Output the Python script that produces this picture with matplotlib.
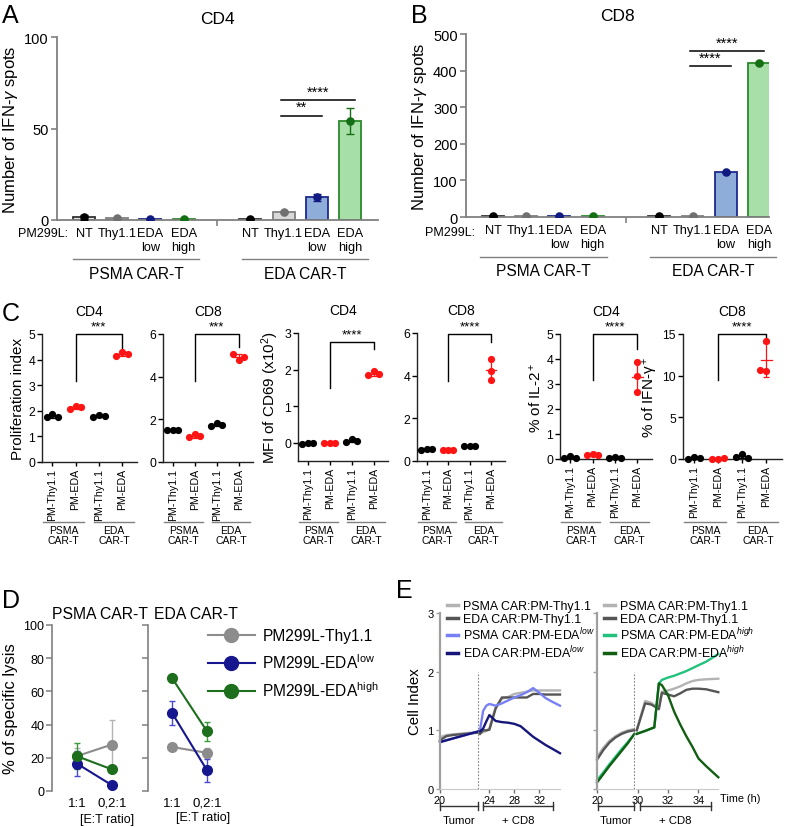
import numpy as np
import matplotlib
matplotlib.use("Agg")
import matplotlib.pyplot as plt
from matplotlib.lines import Line2D
from matplotlib.transforms import blended_transform_factory as btf

plt.rcParams['font.family'] = ['Liberation Sans', 'DejaVu Sans']
plt.rcParams['mathtext.fontset'] = 'custom'
plt.rcParams['mathtext.rm'] = 'Liberation Sans'
plt.rcParams['mathtext.it'] = 'Liberation Sans:italic'
plt.rcParams['mathtext.bf'] = 'Liberation Sans:bold'

# ------------------------------------------------------------------ data
# A / B : IFN-gamma ELISPOT
ab_targets = ["NT", "Thy1.1", "EDA\nlow", "EDA\nhigh"]
ab_groups = ["PSMA CAR-T", "EDA CAR-T"]
a_psma = [1.5, 1.2, 0.6, 0.7]
a_psma_err = [1.5, 0.3, 0.2, 0.3]
a_eda = [0.6, 4.3, 12.3, 54.0]
a_eda_err = [0.2, 0.4, 2.0, 7.0]
a_sig_y = [57, 65.5]
a_sig_txt = ["**", "****"]
b_psma = [2.0, 2.0, 2.0, 2.0]
b_psma_err = [0.5, 0.5, 0.5, 0.5]
b_eda = [2.0, 2.0, 122.0, 420.0]
b_eda_err = [0.5, 0.5, 2.0, 3.0]
b_sig_y = [412, 453]
b_sig_txt = ["****", "****"]

# C : per condition triplicates (PSMA-Thy1.1, PSMA-EDA, EDA-Thy1.1, EDA-EDA)
c_conditions = ["PM-Thy1.1", "PM-EDA", "PM-Thy1.1", "PM-EDA"]
c_groups = ["PSMA\nCAR-T", "EDA\nCAR-T"]
c_prolif_cd4 = [[1.88, 1.75, 1.75], [2.18, 2.07, 2.15], [1.82, 1.75, 1.78], [4.30, 4.15, 4.20]]
c_prolif_cd8 = [[1.50, 1.50, 1.50], [1.30, 1.15, 1.22], [1.82, 1.68, 1.75], [4.80, 5.05, 4.90]]
c_cd69_cd4 = [[0.0, -0.03, 0.0], [0.0, 0.0, 0.0], [0.10, 0.02, 0.06], [1.95, 1.84, 1.88]]
c_cd69_cd8 = [[0.58, 0.52, 0.55], [0.50, 0.50, 0.50], [0.72, 0.70, 0.72], [4.80, 4.20, 3.80]]
c_il2_cd4 = [[0.12, 0.05, 0.06], [0.22, 0.15, 0.18], [0.10, 0.05, 0.06], [3.87, 3.32, 2.70]]
c_ifng_cd8 = [[0.30, 0.05, 0.10], [0.05, 0.0, 0.10], [0.60, 0.20, 0.15], [14.2, 10.6, 10.7]]
c_titles = ["CD4", "CD8", "CD4", "CD8", "CD4", "CD8"]
c_ylabels = ["Proliferation index", None, "MFI of CD69 (x10$^2$)", None,
             "% of IL-2$^+$", "% of IFN-\u03b3$^+$"]
c_stars = ["***", "***", "****", "****", "****", "****"]

# D : specific lysis
d_ratios = ["1:1", "0,2:1"]
d_labels = ["PM299L-Thy1.1", "PM299L-EDA$^{\\rm low}$", "PM299L-EDA$^{\\rm high}$"]
d_psma_thy = [21.0, 28.0]; d_psma_thy_err = [5.0, 15.0]
d_psma_low = [16.5, 3.5];  d_psma_low_err = [7.5, 1.0]
d_psma_high = [21.0, 13.0]; d_psma_high_err = [8.0, 1.5]
d_eda_thy = [26.5, 23.0];  d_eda_thy_err = [1.5, 3.0]
d_eda_low = [47.0, 12.5];  d_eda_low_err = [7.3, 6.8]
d_eda_high = [68.0, 36.0]; d_eda_high_err = [1.5, 5.7]

# E : cell index (xCELLigence)
e_tumor_t = [20.0, 20.5, 21.0, 21.5, 22.0, 22.5, 23.0]
e1_tumor_psma_thy = [0.88, 0.92, 0.93, 0.94, 0.95, 0.96, 0.97]
e1_tumor_eda_thy = [0.83, 0.90, 0.92, 0.93, 0.94, 0.95, 0.96]
e1_tumor_psma_low = [0.80, 0.83, 0.86, 0.89, 0.92, 0.95, 0.98]
e1_tumor_eda_low = [0.80, 0.83, 0.86, 0.89, 0.92, 0.95, 0.98]
e1_t = [22.5, 23.0, 23.5, 24.0, 25.0, 26.0, 27.0, 28.0, 29.0, 30.0, 31.0, 32.0, 33.0, 34.0, 35.3]
e1_psma_thy = [0.95, 0.97, 0.99, 1.03, 1.40, 1.54, 1.57, 1.62, 1.64, 1.66, 1.68, 1.68, 1.68, 1.68, 1.68]
e1_eda_thy = [0.94, 1.00, 1.00, 1.01, 1.37, 1.56, 1.56, 1.56, 1.56, 1.56, 1.62, 1.62, 1.61, 1.61, 1.61]
e1_psma_low = [1.00, 1.33, 1.42, 1.45, 1.42, 1.46, 1.51, 1.56, 1.60, 1.65, 1.72, 1.64, 1.55, 1.49, 1.42]
e1_eda_low = [0.98, 1.03, 1.15, 1.26, 1.16, 1.14, 1.13, 1.11, 1.07, 0.98, 0.89, 0.82, 0.75, 0.69, 0.61]
e2_tumor_psma_thy = [0.54, 0.70, 0.82, 0.90, 0.96, 1.00, 1.02]
e2_tumor_eda_thy = [0.50, 0.66, 0.79, 0.88, 0.94, 0.98, 1.00]
e2_tumor_psma_high = [0.15, 0.28, 0.42, 0.55, 0.68, 0.80, 0.93]
e2_tumor_eda_high = [0.11, 0.25, 0.39, 0.52, 0.65, 0.78, 0.93]
e2_t = [29.95, 30.5, 30.9, 31.1, 31.4, 31.6, 32.0, 32.4, 32.8, 33.2, 33.6, 34.0, 34.5, 35.3]
e2_psma_thy = [1.01, 1.50, 1.47, 1.43, 1.39, 1.66, 1.68, 1.71, 1.75, 1.80, 1.84, 1.86, 1.87, 1.88]
e2_eda_thy = [1.00, 1.46, 1.44, 1.41, 1.36, 1.64, 1.61, 1.58, 1.63, 1.69, 1.71, 1.71, 1.70, 1.65]
e2_psma_high = [0.94, 0.99, 1.03, 1.05, 1.80, 1.86, 1.90, 1.93, 1.97, 2.01, 2.06, 2.11, 2.17, 2.30]
e2_eda_high = [0.94, 0.99, 1.03, 1.05, 1.80, 1.77, 1.60, 1.32, 1.10, 0.90, 0.72, 0.52, 0.39, 0.20]
e1_labels = ["PSMA CAR:PM-Thy1.1", "EDA CAR:PM-Thy1.1",
             "PSMA CAR:PM-EDA$^{low}$", "EDA CAR:PM-EDA$^{low}$"]
e2_labels = ["PSMA CAR:PM-Thy1.1", "EDA CAR:PM-Thy1.1",
             "PSMA CAR:PM-EDA$^{high}$", "EDA CAR:PM-EDA$^{high}$"]

# ------------------------------------------------------------------ layout helpers
W, H = 787, 828
fig = plt.figure(figsize=(W / 100, H / 100), dpi=100)


def add_ax(x0, y0, x1, y1):
    return fig.add_axes([x0 / W, 1 - y1 / H, (x1 - x0) / W, (y1 - y0) / H])


def ftext(x, y, s, **kw):
    fig.text(x / W, 1 - y / H, s, **kw)


def fline(xs, ys, **kw):
    fig.add_artist(Line2D([x / W for x in xs], [1 - y / H for y in ys], **kw))


GRAY = '#808080'

# ------------------------------------------------------------------ A / B
bar_fill = ['#e6e6e6', '#d9d9d9', '#8fadd9', '#a8dfa8']
bar_edge = ['#333333', '#808080', '#1c2a8c', '#2a8a2a']
dot_col = ['#000000', '#707070', '#101a80', '#157015']


def draw_ab(ax, psma, psma_err, eda, eda_err, ylim, yticks, sig_y, sig_txt, xlim, title,
            line_y, lab_y, psma_span, eda_span):
    pos = [np.arange(4), np.arange(4) + 5]
    for p, vals, errs in zip(pos, (psma, eda), (psma_err, eda_err)):
        ax.bar(p, vals, width=0.66, color=bar_fill, edgecolor=bar_edge, linewidth=1.3, zorder=2)
        for xi, v, e, c in zip(p, vals, errs, dot_col):
            ax.errorbar([xi], [v], yerr=[e], fmt='none', ecolor=c, elinewidth=1.0,
                        capsize=3, capthick=1.0, zorder=3)
            ax.scatter([xi], [v], s=38, color=c, zorder=4, linewidths=0)
    ax.set_xlim(*xlim)
    ax.set_ylim(*ylim)
    ax.set_yticks(yticks)
    for s in ['top', 'right']:
        ax.spines[s].set_visible(False)
    for s in ['left', 'bottom']:
        ax.spines[s].set_color(GRAY)
        ax.spines[s].set_linewidth(1.3)
    ax.tick_params(axis='y', labelsize=10.5, length=4, width=1.2, color=GRAY, pad=2)
    ax.set_xticks(list(pos[0]) + list(pos[1]))
    ax.set_xticklabels(ab_targets * 2, fontsize=9.2)
    ax.tick_params(axis='x', length=0, pad=5)
    ax.set_xticks([4], minor=True)
    ax.tick_params(axis='x', which='minor', length=4, width=1.2, color=GRAY)
    ax.set_ylabel("Number of IFN-$\\gamma$ spots", fontsize=12, labelpad=3)
    ax.set_title(title, fontsize=12.5, pad=10)
    # significance
    for yv, t, x2 in zip(sig_y, sig_txt, (7, 8)):
        ax.plot([6 - 0.08, x2 + 0.15], [yv, yv], color='black', lw=1.1, zorder=5)
        ax.text((6 - 0.08 + x2 + 0.15) / 2, yv + (ylim[1] - ylim[0]) * 0.008, t,
                ha='center', va='bottom', fontsize=10.5)
    tr = btf(ax.transData, ax.transAxes)
    for span, lab in zip((psma_span, eda_span), ab_groups):
        ax.plot(span, [line_y, line_y], color=GRAY, lw=1.0, transform=tr, clip_on=False)
        ax.text(np.mean(span), lab_y, lab, transform=tr, ha='center', va='center', fontsize=11.2)


axA = add_ax(57, 38, 378, 221)
draw_ab(axA, a_psma, a_psma_err, a_eda, a_eda_err, (0, 100), [0, 50, 100], a_sig_y, a_sig_txt,
        (-0.81, 8.84), "CD4", -0.213, -0.295, (-0.33, 3.46), (4.75, 8.54))
axB = add_ax(466, 35, 769, 218)
draw_ab(axB, b_psma, b_psma_err, b_eda, b_eda_err, (0, 500), [0, 100, 200, 300, 400, 500],
        b_sig_y, b_sig_txt, (-0.81, 8.3), "CD8", -0.219, -0.295, (-0.39, 3.43), (4.73, 8.5))
ftext(68, 234, "PM299L:", ha='right', va='center', fontsize=9)
ftext(475, 233, "PM299L:", ha='right', va='center', fontsize=9)

# ------------------------------------------------------------------ C


def swarm_offsets(vals, ppu, diam=7.0, step=0.25):
    placed, offs = [], []
    cands = [0, -step, step, -2 * step, 2 * step]
    for v in vals:
        chosen = cands[-1]
        for c in cands:
            if all(not (abs(c - o) < 1e-9 and abs(v - pv) * ppu < diam) for pv, o in placed):
                chosen = c
                break
        placed.append((v, chosen))
        offs.append(chosen)
    return offs


def draw_c(rect, groups, ylim, yticks, ylabel, title, brk, stars):
    x0, y0, x1, y1 = rect
    ax = add_ax(*rect)
    ax.set_xlim(-0.45, 3.65)
    ax.set_ylim(*ylim)
    ax.set_yticks(yticks)
    ppu = (y1 - y0) / (ylim[1] - ylim[0])
    for i, vals in enumerate(groups):
        col = 'black' if i % 2 == 0 else '#ff1414'
        offs = swarm_offsets(vals, ppu)
        m = np.mean(vals)
        sd = np.std(vals, ddof=1)
        ax.plot([i - 0.24, i + 0.24], [m, m], color=col, lw=0.9, zorder=2)
        ax.errorbar([i], [m], yerr=[sd], fmt='none', ecolor=col, elinewidth=0.9,
                    capsize=2.5, capthick=0.9, zorder=2)
        ax.scatter(i + np.array(offs), vals, s=27, color=col, zorder=3, clip_on=False, linewidths=0)
    top, yl, yr = brk
    ax.plot([1, 1, 3, 3], [yl, top, top, yr], color='black', lw=1.0, clip_on=False)
    ax.text(2, top + (ylim[1] - ylim[0]) * 0.015, stars, ha='center', va='bottom', fontsize=9.5)
    for s in ['top', 'right']:
        ax.spines[s].set_visible(False)
    for s in ['left', 'bottom']:
        ax.spines[s].set_color('#222222')
        ax.spines[s].set_linewidth(1.0)
    ax.tick_params(axis='y', labelsize=8.8, length=3.5, width=1.0, pad=1.5)
    ax.set_xticks(range(4))
    ax.set_xticklabels(c_conditions, rotation=90, fontsize=7.7)
    ax.tick_params(axis='x', length=3, width=1.0, pad=1.5)
    if ylabel:
        ax.set_ylabel(ylabel, fontsize=11, labelpad=2)
    ax.set_title(title, fontsize=10, pad=14)
    tr = btf(ax.transData, fig.transFigure)
    ly = 1 - 523 / H
    for span, lab, cx in zip(((-0.4, 1.35), (1.8, 3.5)), c_groups, (0.48, 2.65)):
        ax.plot(span, [ly, ly], color=GRAY, lw=1.0, transform=tr, clip_on=False)
        ax.text(cx, 1 - 526 / H, lab, transform=tr, ha='center', va='top', fontsize=7.5,
                linespacing=1.05)
    return ax


c_data = [c_prolif_cd4, c_prolif_cd8, c_cd69_cd4, c_cd69_cd8, c_il2_cd4, c_ifng_cd8]
c_rects = [(42, 335, 137, 463), (163, 335, 253, 463), (298, 334, 388, 462),
           (417, 334, 505, 462), (560, 335, 652, 460), (683, 335, 782, 460)]
c_ylims = [(0, 5), (0, 6), (-0.5, 3), (0, 6), (0, 5), (0, 15)]
c_yticks = [[0, 1, 2, 3, 4, 5], [0, 2, 4, 6], [0, 1, 2, 3], [0, 2, 4, 6],
            [0, 1, 2, 3, 4, 5], [0, 5, 10, 15]]
c_brackets = [(5.0, 3.15, 4.45), (6.0, 3.8, 5.4), (2.75, 1.5, 2.56), (5.95, 3.75, 5.6),
              (5.0, 3.16, 4.4), (15.0, 9.5, 14.0)]
for i in range(6):
    draw_c(c_rects[i], c_data[i], c_ylims[i], c_yticks[i], c_ylabels[i], c_titles[i],
           c_brackets[i], c_stars[i])

# ------------------------------------------------------------------ D
d_col = ['#8c8c8c', '#16168f', '#1d6e1d']
d_ecol = ['#b4b4b4', '#4a4ad0', '#3a9a3a']


def draw_d(rect, xlim, series, show_labels):
    ax = add_ax(*rect)
    ax.set_xlim(*xlim)
    ax.set_ylim(0, 100)
    # draw order: high, Thy1.1, low
    for k in (2, 0, 1):
        vals, errs = series[k]
        ax.errorbar([0, 1], vals, yerr=errs, fmt='none', ecolor=d_ecol[k], elinewidth=1.0,
                    capsize=2.5, capthick=1.0, zorder=2 + k * 0.1)
        ax.plot([0, 1], vals, '-o', color=d_col[k], lw=1.5, ms=7, zorder=3 + k * 0.1)
    for s in ['top', 'right', 'bottom']:
        ax.spines[s].set_visible(False)
    ax.spines['left'].set_color(GRAY)
    ax.spines['left'].set_linewidth(1.2)
    ax.set_yticks([0, 20, 40, 60, 80, 100])
    ax.tick_params(axis='y', length=4, width=1.1, color=GRAY, labelsize=9, pad=1.5,
                   labelleft=show_labels)
    ax.set_xticks([0, 1])
    ax.set_xticklabels(d_ratios, fontsize=9.5)
    ax.tick_params(axis='x', length=0, pad=4)
    return ax


axD1 = draw_d((52, 626, 133, 792), (-0.71, 1.6),
              [(d_psma_thy, d_psma_thy_err), (d_psma_low, d_psma_low_err),
               (d_psma_high, d_psma_high_err)], True)
axD1.set_ylabel("% of specific lysis", fontsize=12, labelpad=4)
axD2 = draw_d((148, 626, 230, 792), (-0.69, 1.66),
              [(d_eda_thy, d_eda_thy_err), (d_eda_low, d_eda_low_err),
               (d_eda_high, d_eda_high_err)], False)
ftext(100, 615, "PSMA CAR-T", ha='center', va='center', fontsize=11.3)
ftext(196, 615, "EDA CAR-T", ha='center', va='center', fontsize=11.3)
ftext(107, 820, "[E:T ratio]", ha='center', va='center', fontsize=9)
ftext(203, 818, "[E:T ratio]", ha='center', va='center', fontsize=9)
d_handles = [Line2D([], [], color=d_col[k], lw=1.5, marker='o', ms=10) for k in range(3)]
axD2.legend(d_handles, d_labels, loc='upper left', bbox_to_anchor=(208 / W, 1 - 629 / H),
            bbox_transform=fig.transFigure, frameon=False, fontsize=11.2, handlelength=3.0,
            handletextpad=0.5, labelspacing=0.6, borderpad=0, borderaxespad=0)

# ------------------------------------------------------------------ E
e_cols = {'psma_thy': '#b3b3b3', 'eda_thy': '#555555', 'psma_low': '#7880f5',
          'eda_low': '#16167a', 'psma_high': '#22c27c', 'eda_high': '#125e12'}


def style_e(ax, xlim, xticks, left):
    ax.set_xlim(*xlim)
    ax.set_ylim(0, 3)
    for s in ['top', 'right']:
        ax.spines[s].set_visible(False)
    ax.spines['bottom'].set_color('#c8c8c8')
    ax.spines['bottom'].set_linewidth(0.8)
    if left:
        ax.spines['left'].set_color('#a0a0a0')
        ax.spines['left'].set_linewidth(1.6)
        ax.set_yticks([0, 1, 2, 3])
        ax.tick_params(axis='y', length=3, width=1, color='#a0a0a0', labelsize=8, pad=1.5)
    else:
        ax.spines['left'].set_visible(False)
        ax.set_yticks([])
    ax.set_xticks(xticks)
    ax.tick_params(axis='x', length=3, width=1, color='#707070', labelsize=7.8, pad=1.5)


e1a = add_ax(440, 614, 478, 790)
e1b = add_ax(480, 614, 560, 790)
e2a = add_ax(597, 614, 634, 790)
e2b = add_ax(636, 614, 718, 790)
style_e(e1a, (20, 23), [20], True)
style_e(e1b, (22.5, 35.3), [24, 28, 32], False)
style_e(e2a, (20, 23), [20], True)
style_e(e2b, (29.9, 35.28), [30, 32, 34], False)
e2a.set_yticklabels([])
e1a.set_ylabel("Cell Index", fontsize=10.8, labelpad=4)

lw_e = 1.7
for key, vals in (('psma_thy', e1_tumor_psma_thy), ('eda_thy', e1_tumor_eda_thy),
                  ('psma_low', e1_tumor_psma_low), ('eda_low', e1_tumor_eda_low)):
    e1a.plot(e_tumor_t, vals, color=e_cols[key], lw=lw_e, clip_on=False)
for key, vals in (('psma_thy', e1_psma_thy), ('eda_thy', e1_eda_thy),
                  ('psma_low', e1_psma_low), ('eda_low', e1_eda_low)):
    e1b.plot(e1_t, vals, color=e_cols[key], lw=lw_e, clip_on=False)
for key, vals in (('psma_thy', e2_tumor_psma_thy), ('eda_thy', e2_tumor_eda_thy),
                  ('psma_high', e2_tumor_psma_high), ('eda_high', e2_tumor_eda_high)):
    e2a.plot(e_tumor_t, vals, color=e_cols[key], lw=lw_e, clip_on=False)
for key, vals in (('psma_thy', e2_psma_thy), ('eda_thy', e2_eda_thy),
                  ('psma_high', e2_psma_high), ('eda_high', e2_eda_high)):
    e2b.plot(e2_t, vals, color=e_cols[key], lw=lw_e, clip_on=False)

for ax in (e1a, e2a):
    ax.plot([23, 23], [0, 2.0], color='#808080', lw=0.8, ls=(0, (1.5, 1.5)), clip_on=False)

e1_handles = [Line2D([], [], color=e_cols[k], lw=2.5)
              for k in ('psma_thy', 'eda_thy', 'psma_low', 'eda_low')]
e2_handles = [Line2D([], [], color=e_cols[k], lw=2.5)
              for k in ('psma_thy', 'eda_thy', 'psma_high', 'eda_high')]
e1b.legend(e1_handles, e1_labels, loc='upper left', bbox_to_anchor=(447 / W, 1 - 601 / H),
           bbox_transform=fig.transFigure, frameon=False, fontsize=8.9, handlelength=0.9,
           handletextpad=0.4, labelspacing=0.08, borderpad=0, borderaxespad=0)
e2b.legend(e2_handles, e2_labels, loc='upper left', bbox_to_anchor=(604 / W, 1 - 601 / H),
           bbox_transform=fig.transFigure, frameon=False, fontsize=8.9, handlelength=0.9,
           handletextpad=0.4, labelspacing=0.08, borderpad=0, borderaxespad=0)

ftext(720, 799, "Time (h)", ha='left', va='center', fontsize=7.8)
# phase brackets
for xa, xb, lab in ((440, 478, "Tumor"), (483, 553, "+ CD8"), (598, 634, "Tumor"), (640, 711, "+ CD8")):
    fline([xa, xb], [807, 807], color='#333333', lw=1.0)
    fline([xa, xa], [803, 811], color='#333333', lw=1.0)
    fline([xb, xb], [803, 811], color='#333333', lw=1.0)
    ftext((xa + xb) / 2, 821, lab, ha='center', va='center', fontsize=8.2)

# ------------------------------------------------------------------ panel letters
for lab, x, y in (("A", 2, 16), ("B", 411, 16), ("C", 2, 314), ("D", 2, 601), ("E", 396, 591)):
    ftext(x, y, lab, ha='left', va='center', fontsize=18)

fig.savefig("out.png", dpi=100)
